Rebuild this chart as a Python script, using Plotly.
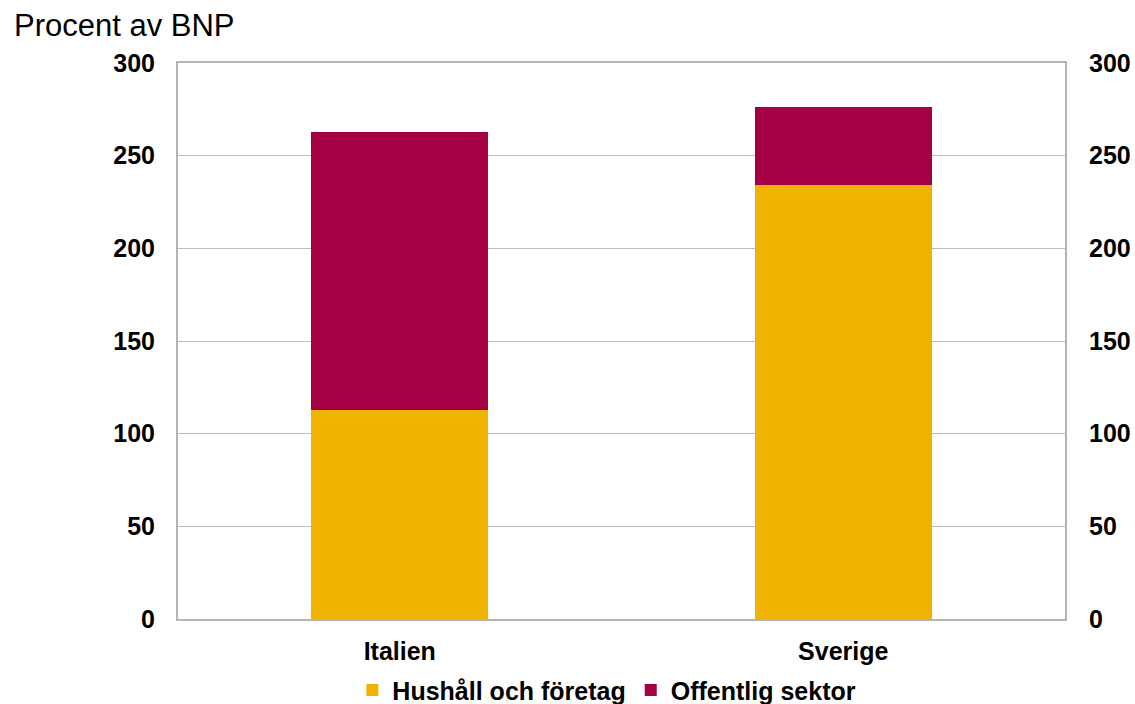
import plotly.graph_objects as go

categories = ["Italien", "Sverige"]
hushall = [113, 234]
offentlig = [150, 42]
series_names = ["Hushåll och företag", "Offentlig sektor"]
colors = ["#F0B400", "#A50044"]
tick_vals = [0, 50, 100, 150, 200, 250, 300]

font_family = "Liberation Sans, Arial, sans-serif"

fig = go.Figure()
fig.add_trace(go.Bar(x=categories, y=hushall, name=series_names[0],
                     marker=dict(color=colors[0], line=dict(width=0))))
fig.add_trace(go.Bar(x=categories, y=offentlig, name=series_names[1],
                     marker=dict(color=colors[1], line=dict(width=0))))
fig.add_trace(go.Scatter(x=categories, y=[0, 0], yaxis="y2", mode="markers",
                         marker=dict(opacity=0), showlegend=False, hoverinfo="skip"))

tick_font = dict(family=font_family, size=25, color="#000000", weight="bold")
fig.update_layout(
    barmode="stack",
    bargap=0.6,
    width=1135, height=704,
    paper_bgcolor="white", plot_bgcolor="white",
    margin=dict(l=178, r=70, t=63, b=85, autoexpand=False),
    font=dict(family=font_family, color="#000000"),
    xaxis=dict(tickfont=dict(family=font_family, size=25, color="#000000", weight="bold"),
               showline=True, linecolor="#b4b4b4", linewidth=2, mirror=True,
               ticks="", showgrid=False, ticklabelstandoff=9),
    yaxis=dict(range=[0, 300], tickvals=tick_vals, tickfont=tick_font,
               showgrid=True, gridcolor="#bdbdbd", gridwidth=1,
               showline=True, linecolor="#b4b4b4", linewidth=2, mirror=True,
               ticks="", ticklabelstandoff=16, zeroline=False),
    yaxis2=dict(range=[0, 300], tickvals=tick_vals, overlaying="y", side="right",
                tickfont=tick_font,
                showgrid=False, showline=False, ticks="", ticklabelstandoff=23, zeroline=False),
    legend=dict(orientation="h", x=0.4835, xanchor="center", y=-0.128, yanchor="middle",
                font=dict(family=font_family, size=25, color="#000000", weight="bold"),
                traceorder="normal", itemwidth=30),
    annotations=[dict(text="Procent av BNP", xref="paper", yref="paper",
                      x=(12 - 178) / 887, y=(619 - 26) / 556, xanchor="left", yanchor="middle",
                      showarrow=False,
                      font=dict(family=font_family, size=31, color="#000000"))],
)

fig.write_html("out.html", config={"displayModeBar": False},
               post_script="document.body.style.margin='0';document.body.style.overflow='hidden';")
